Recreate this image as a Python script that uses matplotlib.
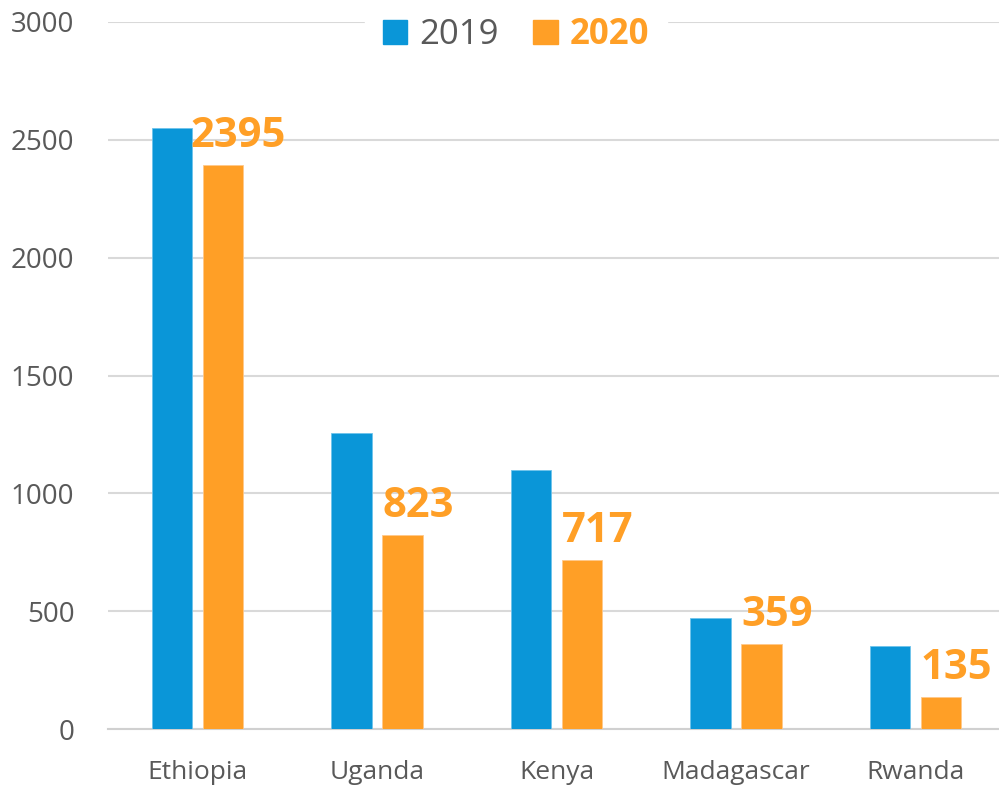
import matplotlib.pyplot as plt
from matplotlib.patches import Patch
import numpy as np

countries = ['Ethiopia', 'Uganda', 'Kenya', 'Madagascar', 'Rwanda']
values_2019 = [2550, 1256, 1099, 473, 352]
values_2020 = [2395, 823, 717, 359, 135]
yticks = [0, 500, 1000, 1500, 2000, 2500, 3000]

blue = '#0A96D8'
orange = '#FF9F26'
gray = '#595959'

plt.rcParams['font.family'] = ['Open Sans', 'DejaVu Sans']

fig = plt.figure(figsize=(9.99, 7.85), dpi=100)
ax = fig.add_axes([107.75 / 999, 1 - 729 / 785, 897.5 / 999, 707 / 785])

x = np.arange(len(countries))
w = 0.223
off = 0.142
ax.bar(x - off, values_2019, w, color=blue, edgecolor='#6EC3EC', linewidth=0.6, zorder=3)
ax.bar(x + off, values_2020, w, color=orange, edgecolor='#FFC98A', linewidth=0.6, zorder=3)

# bold labels above the 2020 bars
for xi, v in zip(x, values_2020):
    ax.annotate(str(v), (xi + off, v), xytext=(11, 13), textcoords='offset points',
                ha='center', va='baseline', fontsize=30, fontweight='bold',
                color=orange, zorder=5, annotation_clip=False)

ax.set_xlim(-0.5, 4.5)
ax.set_ylim(0, 3000)
ax.set_yticks(yticks)
ax.set_xticks(x)
ax.set_xticklabels(countries)
ax.yaxis.grid(True, color='#D9D9D9', linewidth=1.5, zorder=0)
ax.set_axisbelow(True)
for s in ['left', 'right', 'top']:
    ax.spines[s].set_visible(False)
ax.spines['bottom'].set_color('#D0D0D0')
ax.spines['bottom'].set_linewidth(1.5)
ax.tick_params(axis='y', length=0, pad=24, labelsize=20, labelcolor=gray)
ax.tick_params(axis='x', length=0, pad=22, labelsize=19, labelcolor=gray)

handles = [Patch(color=blue), Patch(color=orange)]
leg = fig.legend(handles, ['2019', '2020'], loc='center', ncol=2,
                 bbox_to_anchor=(516 / 999, 1 - 35 / 785), frameon=True,
                 facecolor='white', edgecolor='white', framealpha=1,
                 fontsize=25, handlelength=0.7, handleheight=0.7,
                 handletextpad=0.35, columnspacing=1.0, borderpad=0.5)
leg.get_texts()[0].set_color(gray)
leg.get_texts()[1].set_color(orange)
leg.get_texts()[1].set_fontweight('bold')

fig.savefig('out.png', dpi=100)
